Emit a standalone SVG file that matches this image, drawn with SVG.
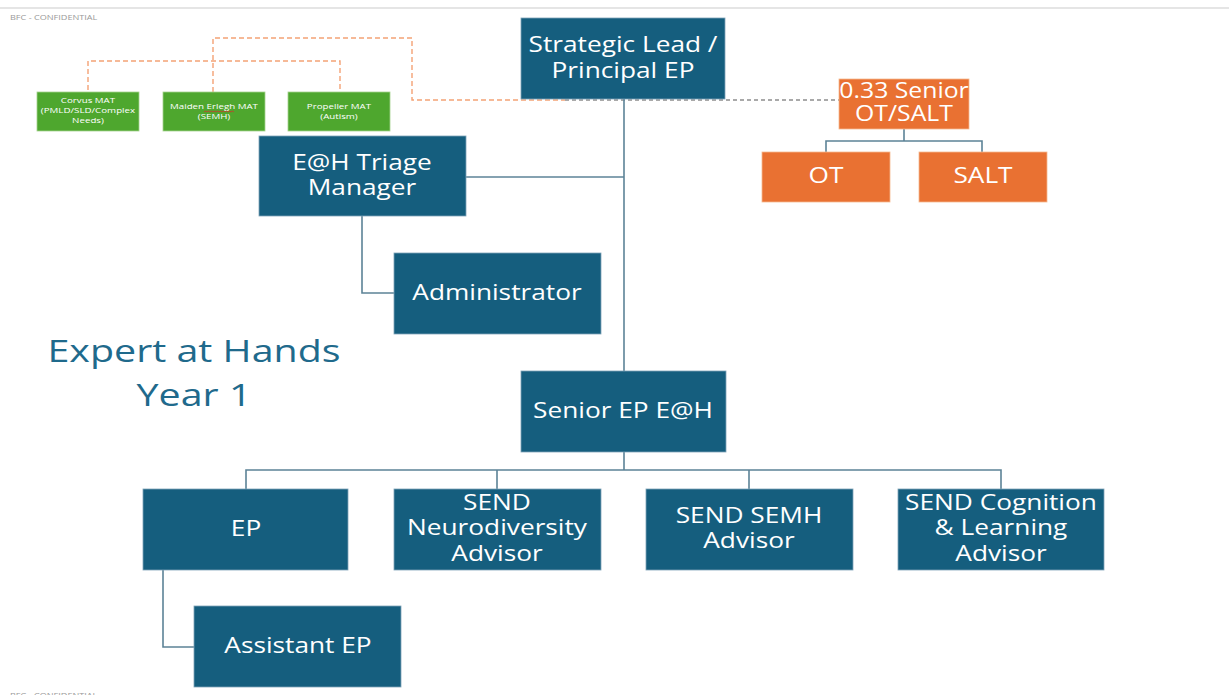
<svg xmlns="http://www.w3.org/2000/svg" width="1232" height="695" viewBox="0 0 1232 695">
<style>
.b{fill:#155E7E;stroke:#7FA3B8;stroke-width:0.8}
.o{fill:#E97132;stroke:#F4B98F;stroke-width:0.8}
.g{fill:#4EA72E;stroke:#A6D38E;stroke-width:0.8}
.t{font-family:"Open Sans","Liberation Sans",sans-serif;font-size:21px;fill:#FFFFFF;text-anchor:middle}
.s{font-family:"Open Sans","Liberation Sans",sans-serif;font-size:7.5px;fill:#FFFFFF;text-anchor:middle}
.f{font-family:"Open Sans","Liberation Sans",sans-serif;font-size:7px;fill:#999999}
.c{fill:none;stroke:#5C8397;stroke-width:1.6}
.d{fill:none;stroke:#F4A275;stroke-width:1.4;stroke-dasharray:5,3}
.k{fill:none;stroke:#555555;stroke-width:1.2;stroke-dasharray:4,3}
</style>
<rect width="1232" height="695" fill="#FFFFFF"/>
<line x1="0" y1="8" x2="1229" y2="8" stroke="#CCCCCC" stroke-width="1.2"/>
<g transform="matrix(1.3,0,0,1,-3,0)"><text class="f" x="10" y="20">BFC - CONFIDENTIAL</text><text class="f" x="10" y="698">BFC - CONFIDENTIAL</text></g>
<g id="connectors">
<path class="d" d="M88,90 V61 H340 V90"/>
<path class="d" d="M213,92 V38 H412 V100 H565"/>
<path class="k" d="M565,100 H839"/>
<path class="c" d="M624,99 V371"/>
<path class="c" d="M466,177 H624"/>
<path class="c" d="M362,216 V293 H394"/>
<path class="c" d="M904,129 V141 M826,152 V141 H982 V152"/>
<path class="c" d="M624,452 V470 M246,489 V470 H1001 V489 M497,470 V489 M749,470 V489"/>
<path class="c" d="M163,570 V647 H194"/>
</g>
<g id="strategic-lead"><rect class="b" x="521" y="18" width="204" height="81"/><g transform="matrix(1.25,0,0,1,-155.75,0)"><text class="t" x="623" y="52">Strategic Lead /</text><text class="t" x="623" y="78">Principal EP</text></g></g>
<g id="senior-ot-salt"><rect class="o" x="839" y="79" width="130" height="50"/><g transform="matrix(1.18,0,0,1,-162.72,0)"><text class="t" x="904" y="98">0.33 Senior</text><text class="t" x="904" y="121">OT/SALT</text></g></g>
<g id="ot"><rect class="o" x="762" y="152" width="128" height="50"/><g transform="matrix(1.25,0,0,1,-206.5,0)"><text class="t" x="826" y="183">OT</text></g></g>
<g id="salt"><rect class="o" x="919" y="152" width="128" height="50"/><g transform="matrix(1.25,0,0,1,-245.75,0)"><text class="t" x="983" y="183">SALT</text></g></g>
<g id="corvus"><rect class="g" x="37" y="92" width="102" height="39"/><g transform="matrix(1.3,0,0,1,-26.4,0)"><text class="s" x="88" y="103">Corvus MAT</text><text class="s" x="88" y="113">(PMLD/SLD/Complex</text><text class="s" x="88" y="123">Needs)</text></g></g>
<g id="maiden"><rect class="g" x="163" y="92" width="102" height="39"/><g transform="matrix(1.3,0,0,1,-64.2,0)"><text class="s" x="214" y="109">Maiden Erlegh MAT</text><text class="s" x="214" y="119">(SEMH)</text></g><path d="M204,112 l1.5,-1 l1.5,1 l1.5,-1 l1.5,1 l1.5,-1 l1.5,1 l1.5,-1 l1.5,1 l1.5,-1 l1.5,1 l1.5,-1 l1.5,1 l1.5,-1 l1.5,1 l1.5,-1 l1.5,1 l1.5,-1 l1.5,1 l1.5,-1 l1.5,1" fill="none" stroke="#D9302C" stroke-width="0.8"/></g>
<g id="propeller"><rect class="g" x="288" y="92" width="102" height="39"/><g transform="matrix(1.3,0,0,1,-101.7,0)"><text class="s" x="339" y="109">Propeller MAT</text><text class="s" x="339" y="119">(Autism)</text></g></g>
<g id="triage"><rect class="b" x="259" y="136" width="207" height="80"/><g transform="matrix(1.25,0,0,1,-90.5,0)"><text class="t" x="362" y="170">E@H Triage</text><text class="t" x="362" y="195">Manager</text></g></g>
<g id="administrator"><rect class="b" x="394" y="253" width="207" height="81"/><g transform="matrix(1.25,0,0,1,-124.25,0)"><text class="t" x="497" y="300">Administrator</text></g></g>
<g id="title" transform="matrix(1.27,0,0,1,-52.38,0)"><text x="194" y="362" font-family="Open Sans,Liberation Sans,sans-serif" font-size="31" fill="#1F6A8C" text-anchor="middle">Expert at Hands</text><text x="194" y="406" font-family="Open Sans,Liberation Sans,sans-serif" font-size="31" fill="#1F6A8C" text-anchor="middle">Year 1</text></g>
<g id="senior-ep"><rect class="b" x="521" y="371" width="205" height="81"/><g transform="matrix(1.25,0,0,1,-155.75,0)"><text class="t" x="623" y="418">Senior EP E@H</text></g></g>
<g id="ep"><rect class="b" x="143" y="489" width="205" height="81"/><g transform="matrix(1.25,0,0,1,-61.5,0)"><text class="t" x="246" y="536">EP</text></g></g>
<g id="neuro"><rect class="b" x="394" y="489" width="207" height="81"/><g transform="matrix(1.25,0,0,1,-124.25,0)"><text class="t" x="497" y="510">SEND</text><text class="t" x="497" y="535">Neurodiversity</text><text class="t" x="497" y="561">Advisor</text></g></g>
<g id="semh"><rect class="b" x="646" y="489" width="207" height="81"/><g transform="matrix(1.25,0,0,1,-187.25,0)"><text class="t" x="749" y="523">SEND SEMH</text><text class="t" x="749" y="548">Advisor</text></g></g>
<g id="cognition"><rect class="b" x="898" y="489" width="206" height="81"/><g transform="matrix(1.25,0,0,1,-250.25,0)"><text class="t" x="1001" y="510">SEND Cognition</text><text class="t" x="1001" y="535">&amp; Learning</text><text class="t" x="1001" y="561">Advisor</text></g></g>
<g id="assistant-ep"><rect class="b" x="194" y="606" width="207" height="81"/><g transform="matrix(1.25,0,0,1,-74.5,0)"><text class="t" x="298" y="653">Assistant EP</text></g></g>
</svg>
